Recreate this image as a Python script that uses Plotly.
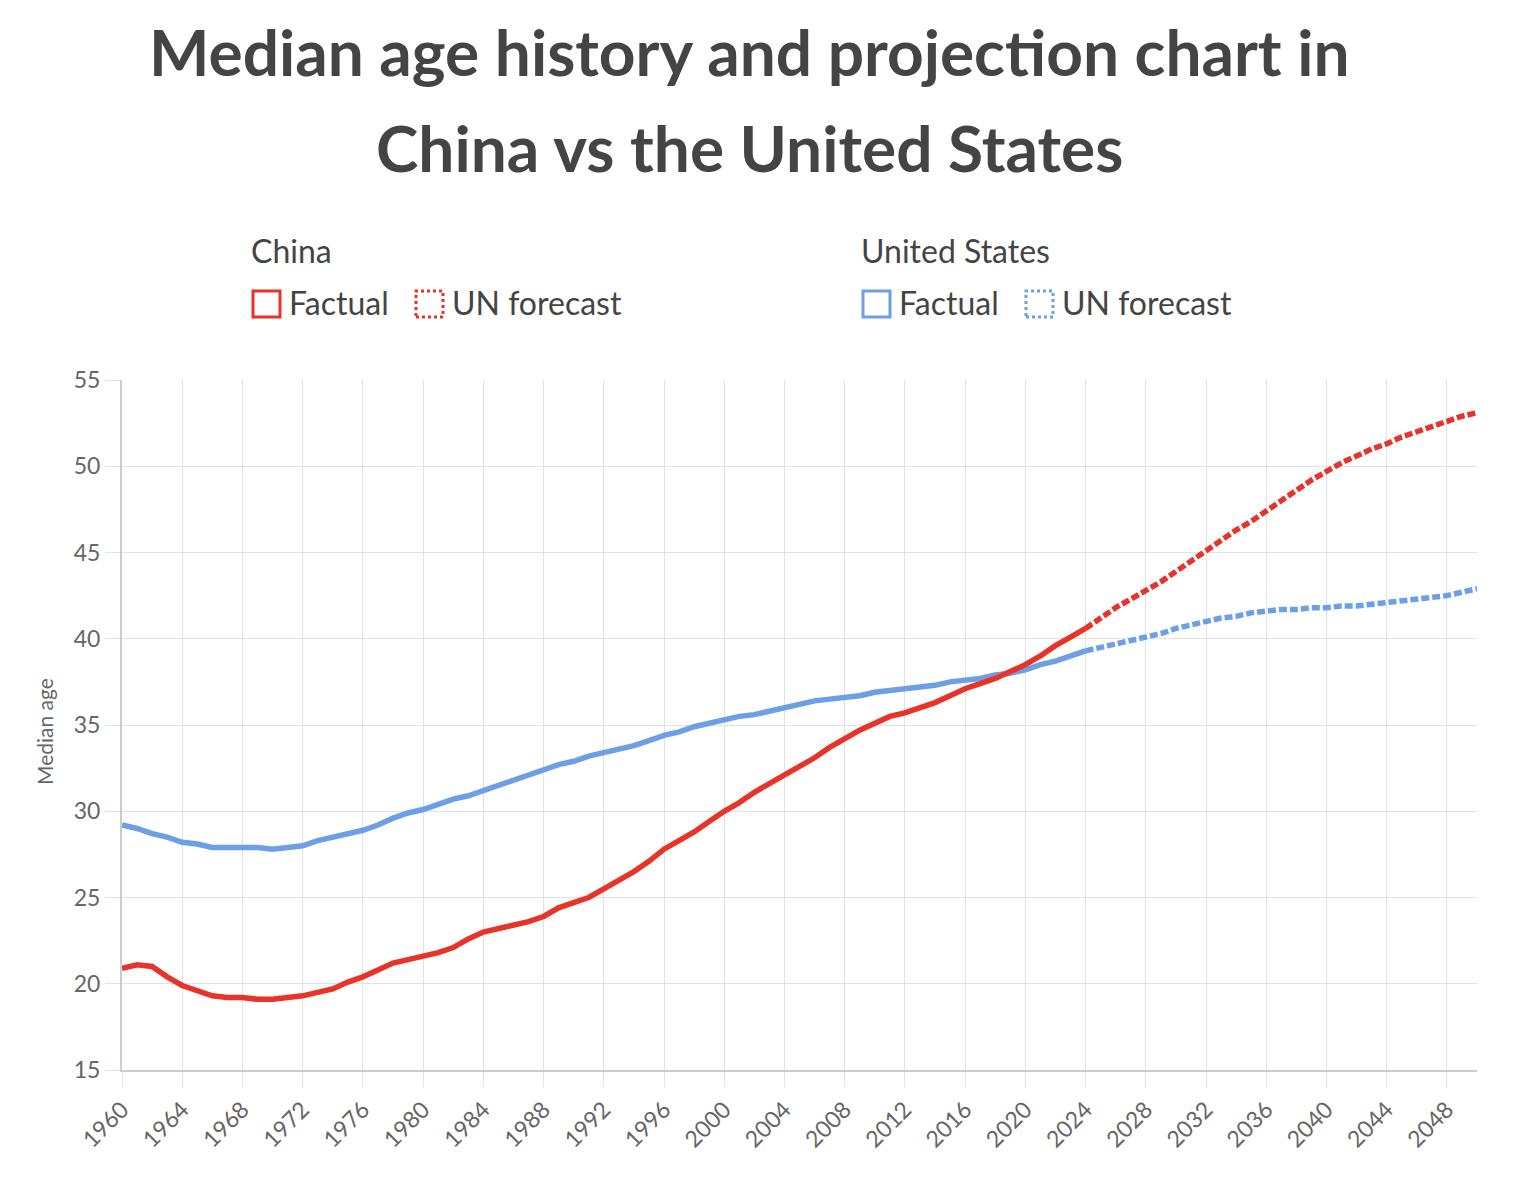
import plotly.graph_objects as go

# ---------------- data ----------------
years_factual = list(range(1960, 2025))
years_forecast = list(range(2024, 2051))

china_factual = [
    20.9, 21.1, 21.0, 20.4, 19.9, 19.6, 19.3, 19.2, 19.2, 19.1,   # 1960-1969
    19.1, 19.2, 19.3, 19.5, 19.7, 20.1, 20.4, 20.8, 21.2, 21.4,   # 1970-1979
    21.6, 21.8, 22.1, 22.6, 23.0, 23.2, 23.4, 23.6, 23.9, 24.4,   # 1980-1989
    24.7, 25.0, 25.5, 26.0, 26.5, 27.1, 27.8, 28.3, 28.8, 29.4,   # 1990-1999
    30.0, 30.5, 31.1, 31.6, 32.1, 32.6, 33.1, 33.7, 34.2, 34.7,   # 2000-2009
    35.1, 35.5, 35.7, 36.0, 36.3, 36.7, 37.1, 37.4, 37.7, 38.1,   # 2010-2019
    38.5, 39.0, 39.6, 40.1, 40.6,                                 # 2020-2024
]
china_forecast = [
    40.6, 41.2, 41.8, 42.3, 42.8, 43.3, 43.9, 44.5, 45.1, 45.7,   # 2024-2033
    46.3, 46.8, 47.4, 48.0, 48.6, 49.2, 49.7, 50.2, 50.6, 51.0,   # 2034-2043
    51.3, 51.7, 52.0, 52.3, 52.6, 52.9, 53.1,                     # 2044-2050
]
us_factual = [
    29.2, 29.0, 28.7, 28.5, 28.2, 28.1, 27.9, 27.9, 27.9, 27.9,   # 1960-1969
    27.8, 27.9, 28.0, 28.3, 28.5, 28.7, 28.9, 29.2, 29.6, 29.9,   # 1970-1979
    30.1, 30.4, 30.7, 30.9, 31.2, 31.5, 31.8, 32.1, 32.4, 32.7,   # 1980-1989
    32.9, 33.2, 33.4, 33.6, 33.8, 34.1, 34.4, 34.6, 34.9, 35.1,   # 1990-1999
    35.3, 35.5, 35.6, 35.8, 36.0, 36.2, 36.4, 36.5, 36.6, 36.7,   # 2000-2009
    36.9, 37.0, 37.1, 37.2, 37.3, 37.5, 37.6, 37.7, 37.9, 38.0,   # 2010-2019
    38.2, 38.5, 38.7, 39.0, 39.3,                                 # 2020-2024
]
us_forecast = [
    39.3, 39.5, 39.7, 39.9, 40.1, 40.3, 40.6, 40.8, 41.0, 41.2,   # 2024-2033
    41.3, 41.5, 41.6, 41.7, 41.7, 41.8, 41.8, 41.9, 41.9, 42.0,   # 2034-2043
    42.1, 42.2, 42.3, 42.4, 42.5, 42.7, 42.9,                     # 2044-2050
]
x_tick_years = list(range(1960, 2049, 4))
y_ticks = [15, 20, 25, 30, 35, 40, 45, 50, 55]

title_lines = ["Median age history and projection chart in", "China vs the United States"]
y_title = "Median age"

# ---------------- styling ----------------
RED = "rgb(232,52,40)"
BLUE = "rgb(108,160,230)"
TEXT = "rgb(68,68,68)"
TICK = "rgb(102,102,102)"
GRID = "rgb(226,226,226)"
AXIS = "rgb(204,204,204)"
FONT = "Lato"
LW = 5.5
DASH = "8px,3px"

OFF = 8                      # page body margin in the browser
W, H = 1522 - 2 * OFF, 1198 - 2 * OFF
# plot area in page pixels: x 122..1477, y 380..1070
L = 122 - OFF
T = 380 - OFF
R = W - (1477 - OFF)
B = H - (1070 - OFF)
PW, PH = W - L - R, H - T - B


def px(x):
    """page pixel x -> paper coordinate"""
    return (x - OFF - L) / PW


def py(y):
    """page pixel y -> paper coordinate"""
    return (H - B - (y - OFF)) / PH


fig = go.Figure()

fig.add_trace(go.Scatter(x=years_factual, y=us_factual, mode="lines",
                         line=dict(color=BLUE, width=LW), name="United States – Factual",
                         showlegend=False))
fig.add_trace(go.Scatter(x=years_forecast, y=us_forecast, mode="lines",
                         line=dict(color=BLUE, width=LW, dash=DASH),
                         name="United States – UN forecast", showlegend=False))
fig.add_trace(go.Scatter(x=years_factual, y=china_factual, mode="lines",
                         line=dict(color=RED, width=LW), name="China – Factual",
                         showlegend=False))
fig.add_trace(go.Scatter(x=years_forecast, y=china_forecast, mode="lines",
                         line=dict(color=RED, width=LW, dash=DASH),
                         name="China – UN forecast", showlegend=False))

annotations = []
shapes = []

# Title (two lines)
annotations.append(dict(text="<b>%s</b>" % title_lines[0], x=px(749), y=py(51),
                        xref="paper", yref="paper", xanchor="center", yanchor="middle",
                        showarrow=False, font=dict(family=FONT, size=64, color=TEXT)))
annotations.append(dict(text="<b>%s</b>" % title_lines[1], x=px(749), y=py(147),
                        xref="paper", yref="paper", xanchor="center", yanchor="middle",
                        showarrow=False, font=dict(family=FONT, size=64, color=TEXT)))

# Custom legend (grouped by country)
legend_groups = [
    ("China", RED, 251),
    ("United States", BLUE, 861),
]
for name, color, x0 in legend_groups:
    annotations.append(dict(text=name, x=px(x0 - 2), y=py(251), xref="paper", yref="paper",
                            xanchor="left", yanchor="middle", showarrow=False,
                            font=dict(family=FONT, size=32, color=TEXT)))
    # Factual (solid box)
    shapes.append(dict(type="rect", xref="paper", yref="paper",
                       x0=px(x0 + 2), x1=px(x0 + 29), y0=py(317), y1=py(291),
                       line=dict(color=color, width=3), fillcolor="rgba(0,0,0,0)"))
    annotations.append(dict(text="Factual", x=px(x0 + 36), y=py(302), xref="paper", yref="paper",
                            xanchor="left", yanchor="middle", showarrow=False,
                            font=dict(family=FONT, size=32, color=TEXT)))
    # UN forecast (dotted box)
    shapes.append(dict(type="rect", xref="paper", yref="paper",
                       x0=px(x0 + 165), x1=px(x0 + 192), y0=py(317), y1=py(291),
                       line=dict(color=color, width=3, dash="dot"), fillcolor="rgba(0,0,0,0)"))
    annotations.append(dict(text="UN forecast", x=px(x0 + 199), y=py(302), xref="paper", yref="paper",
                            xanchor="left", yanchor="middle", showarrow=False,
                            font=dict(family=FONT, size=32, color=TEXT)))

# y-axis title
annotations.append(dict(text=y_title, x=px(44), y=py(732), xref="paper", yref="paper",
                        xanchor="center", yanchor="middle", textangle=-90, showarrow=False,
                        font=dict(family=FONT, size=21, color=TICK)))

fig.update_layout(
    width=W, height=H,
    margin=dict(l=L, r=R, t=T, b=B),
    paper_bgcolor="white", plot_bgcolor="white",
    font=dict(family=FONT, color=TICK),
    showlegend=False,
    annotations=annotations,
    shapes=shapes,
    xaxis=dict(
        range=[1960, 2050], tickmode="array", tickvals=x_tick_years,
        ticktext=[str(v) for v in x_tick_years],
        tickangle=-45, tickfont=dict(family=FONT, size=23, color=TICK),
        showgrid=True, gridcolor=GRID, gridwidth=1,
        ticks="outside", ticklen=15, tickcolor=GRID, tickwidth=1,
        showline=True, linecolor=AXIS, linewidth=2, zeroline=False,
    ),
    yaxis=dict(
        range=[15, 55], tickmode="array", tickvals=y_ticks,
        tickfont=dict(family=FONT, size=23, color=TICK),
        showgrid=True, gridcolor=GRID, gridwidth=1,
        ticks="outside", ticklen=15, tickcolor=GRID, tickwidth=1,
        showline=True, linecolor=AXIS, linewidth=2, zeroline=False,
    ),
)

fig.write_html("out.html")
